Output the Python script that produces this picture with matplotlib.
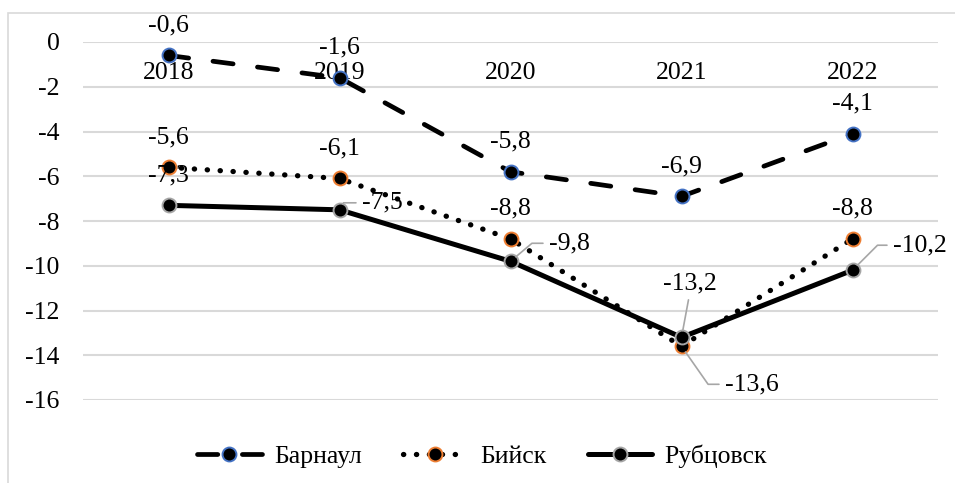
import matplotlib
matplotlib.use('Agg')
from matplotlib import pyplot as plt
from matplotlib.patches import Rectangle

plt.rcParams['font.family'] = ['Liberation Serif', 'DejaVu Serif']
plt.rcParams['axes.unicode_minus'] = False

years = ['2018', '2019', '2020', '2021', '2022']
barnaul = [-0.6, -1.6, -5.8, -6.9, -4.1]
biysk = [-5.6, -6.1, -8.8, -13.6, -8.8]
rubtsovsk = [-7.3, -7.5, -9.8, -13.2, -10.2]
y_ticks = [0, -2, -4, -6, -8, -10, -12, -14, -16]

W, H = 955, 483
fig = plt.figure(figsize=(W / 100, H / 100), dpi=100)
ax = fig.add_axes([83 / W, 1 - 400 / H, 855 / W, 358 / H])

fs = 18.5
grid_c = '#D9D9D9'
lead_c = '#A6A6A6'

# outer chart border
fig.patches.append(Rectangle((8 / W, -0.1), 1.2, (H - 13) / H + 0.1,
                             transform=fig.transFigure, fill=False,
                             edgecolor=grid_c, lw=1.2))

x = list(range(len(years)))
ax.plot(x, barnaul, color='black', lw=3.4, dashes=(4.3, 5.2), dash_capstyle='round',
        marker='o', ms=10, mfc='black', mec='#4472C4', mew=1.4, label='Барнаул', zorder=3)
ax.plot(x, biysk, color='black', lw=3.8, linestyle=(0, (0.05, 2.4)), dash_capstyle='round',
        marker='o', ms=10, mfc='black', mec='#ED7D31', mew=1.4, label='Бийск', zorder=4)
ax.plot(x, rubtsovsk, color='black', lw=3.6, solid_capstyle='round',
        marker='o', ms=10, mfc='black', mec='#A5A5A5', mew=1.4, label='Рубцовск', zorder=5)

ax.set_xlim(-0.5, 4.5)
ax.set_ylim(-16, 0)
ax.set_yticks(y_ticks)
ax.set_yticklabels([str(t) for t in y_ticks], fontsize=fs)
ax.set_xticks([])
ax.tick_params(axis='y', length=0, pad=17)
for s in ax.spines.values():
    s.set_visible(False)
ax.grid(axis='y', color=grid_c, lw=1.5, zorder=0)
ax.set_axisbelow(True)

# category labels under the zero line
for i, yr in enumerate(years):
    ax.annotate(yr, (i, 0), xytext=(0, -31), textcoords='offset pixels',
                ha='center', va='center', fontsize=fs, zorder=1)

def fmt(v):
    return ('%.1f' % v).replace('.', ',')

def above(i, v):
    ax.annotate(fmt(v), (i, v), xytext=(0, 30), textcoords='offset pixels',
                ha='center', va='center', fontsize=fs, zorder=6)

for i, v in enumerate(barnaul):
    above(i, v)
for i in [0, 1, 2, 4]:
    above(i, biysk[i])
above(0, rubtsovsk[0])

def leader(i, v, dx, dy, angB):
    ax.annotate(fmt(v), (i, v), xytext=(dx, dy), textcoords='offset pixels',
                ha='left', va='center', fontsize=fs, zorder=6,
                arrowprops=dict(arrowstyle='-', color=lead_c, lw=1.2,
                                shrinkA=2, shrinkB=5, relpos=(0, 0.5),
                                connectionstyle='angle,angleA=0,angleB=%d,rad=0' % angB))

leader(1, rubtsovsk[1], 22, 7, 60)
leader(2, rubtsovsk[2], 38, 18, 40)
leader(4, rubtsovsk[4], 40, 25, 45)
leader(3, biysk[3], 43, -38, -55)

ax.annotate(fmt(rubtsovsk[3]), (3, rubtsovsk[3]), xytext=(8, 54), textcoords='offset pixels',
            ha='center', va='center', fontsize=fs, zorder=6,
            arrowprops=dict(arrowstyle='-', color=lead_c, lw=1.2, shrinkA=2, shrinkB=5,
                            relpos=(0.5, 0)))

fig.legend(loc='center', bbox_to_anchor=(0.505, 1 - 456 / H), ncol=3, frameon=False,
           fontsize=fs, handlelength=2.5, handletextpad=0.5, columnspacing=1.6,
           numpoints=1)

fig.savefig('out.png', dpi=100)
